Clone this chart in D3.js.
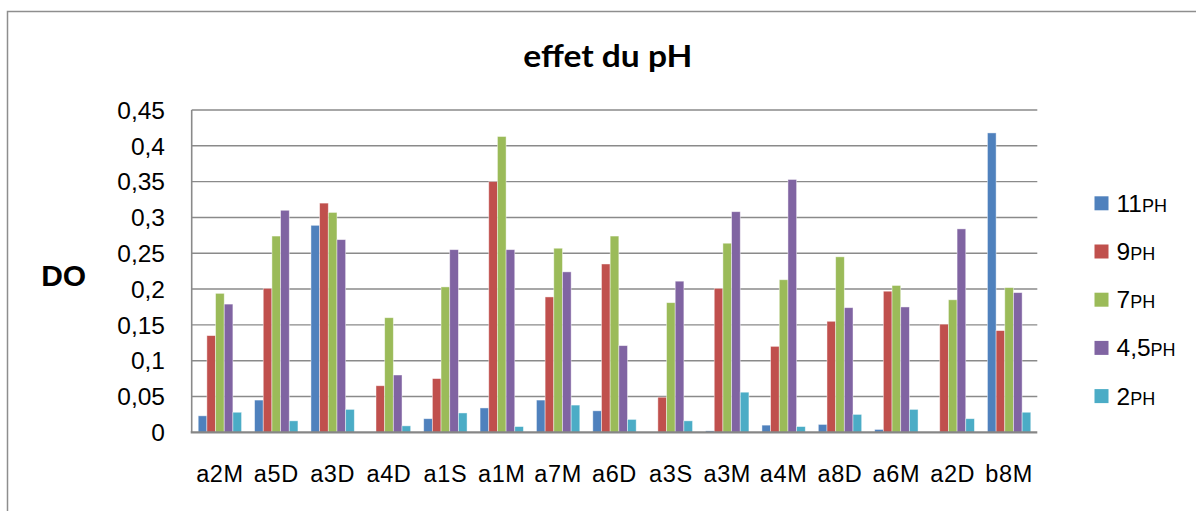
<!DOCTYPE html>
<html>
<head>
<meta charset="utf-8">
<script src="https://cdn.jsdelivr.net/npm/d3@7"></script>
<style>
  html, body { margin: 0; padding: 0; background: #fff; }
  svg { display: block; }
</style>
</head>
<body>
<svg id="chart" width="1196" height="511"></svg>
<script>
// Samples (x axis)
const categories = ["a2M","a5D","a3D","a4D","a1S","a1M","a7M","a6D","a3S","a3M","a4M","a8D","a6M","a2D","b8M"];

// Optical density (DO) per pH condition
const ph11  = [0.023,0.045,0.289,0.000,0.019,0.034,0.045,0.030,0.000,0.002,0.010,0.011,0.004,0.000,0.418];
const ph9   = [0.135,0.201,0.320,0.065,0.075,0.350,0.189,0.235,0.049,0.201,0.120,0.155,0.197,0.151,0.142];
const ph7   = [0.194,0.274,0.307,0.160,0.203,0.413,0.257,0.274,0.181,0.264,0.213,0.245,0.205,0.185,0.202];
const ph45  = [0.179,0.310,0.269,0.080,0.255,0.255,0.224,0.121,0.211,0.308,0.353,0.174,0.175,0.284,0.195];
const ph2   = [0.028,0.016,0.032,0.009,0.027,0.008,0.038,0.018,0.016,0.056,0.008,0.025,0.032,0.019,0.028];

const seriesNames = ["11", "9", "7", "4,5", "2"];
const seriesValues = [ph11, ph9, ph7, ph45, ph2];
const colors = ["#4F81BD", "#C0504D", "#9BBB59", "#8064A2", "#4BACC6"];

const yTicks = [0, 0.05, 0.1, 0.15, 0.2, 0.25, 0.3, 0.35, 0.4, 0.45];

const svg = d3.select("#chart");
const font = "'Liberation Sans', Arial, sans-serif";

// outer chart frame (runs off the right and bottom edges)
svg.append("rect")
  .attr("x", 7.5).attr("y", 11.5)
  .attr("width", 1220).attr("height", 520)
  .attr("fill", "#fff")
  .attr("stroke", "#8e8e8e").attr("stroke-width", 1.5);

const plot = { left: 191.7, right: 1037.3, top: 110, bottom: 432.3 };

const x = d3.scaleBand().domain(categories).range([plot.left, plot.right]).paddingInner(0).paddingOuter(0);
const xs = d3.scaleBand().domain(d3.range(seriesNames.length)).range([0, x.bandwidth()])
  .paddingInner(0).paddingOuter(0.75);
const y = d3.scaleLinear().domain([0, 0.45]).range([plot.bottom, plot.top]);

const fmt = v => d3.format(".2~f")(v).replace(".", ",");

// horizontal gridlines
svg.append("g")
  .selectAll("line").data(yTicks.filter(t => t > 0)).join("line")
  .attr("x1", plot.left).attr("x2", plot.right)
  .attr("y1", d => y(d)).attr("y2", d => y(d))
  .attr("stroke", "#8a8a8a").attr("stroke-width", 1.4);

// y tick labels
svg.append("g")
  .selectAll("text").data(yTicks).join("text")
  .attr("x", 165).attr("y", d => y(d))
  .attr("dy", "0.36em")
  .attr("text-anchor", "end")
  .attr("font-family", font).attr("font-size", 24.5)
  .attr("fill", "#000")
  .text(d => d === 0 ? "0" : fmt(d));

// bars
const rows = [];
seriesValues.forEach((vals, s) => vals.forEach((v, i) => rows.push({ s, cat: categories[i], v })));
svg.append("g")
  .selectAll("rect").data(rows.filter(d => d.v > 0)).join("rect")
  .attr("x", d => x(d.cat) + xs(d.s))
  .attr("width", xs.bandwidth())
  .attr("y", d => y(d.v))
  .attr("height", d => y(0) - y(d.v))
  .attr("fill", d => colors[d.s])
  .attr("stroke", "rgba(255,255,255,0.55)")
  .attr("stroke-width", 0.8);

// axes lines
svg.append("line")
  .attr("x1", plot.left).attr("x2", plot.left)
  .attr("y1", plot.top).attr("y2", plot.bottom)
  .attr("stroke", "#8a8a8a").attr("stroke-width", 1.6);
svg.append("line")
  .attr("x1", plot.left - 1).attr("x2", plot.right)
  .attr("y1", plot.bottom).attr("y2", plot.bottom)
  .attr("stroke", "#868686").attr("stroke-width", 2.2);

// category labels
svg.append("g")
  .selectAll("text").data(categories).join("text")
  .attr("x", d => x(d) + x.bandwidth() / 2)
  .attr("y", 481.7)
  .attr("text-anchor", "middle")
  .attr("font-family", font).attr("font-size", 23.5)
  .attr("letter-spacing", 0.6)
  .attr("fill", "#000")
  .text(d => d);

// title
svg.append("text")
  .attr("x", 607.8).attr("y", 67)
  .attr("text-anchor", "middle")
  .attr("font-family", "Lato, 'Open Sans', sans-serif")
  .attr("font-weight", "bold")
  .attr("font-size", 31)
  .attr("textLength", 169).attr("lengthAdjust", "spacingAndGlyphs")
  .text("effet du pH");

// y axis title
svg.append("text")
  .attr("x", 63.7).attr("y", 275.5)
  .attr("dy", "0.36em")
  .attr("text-anchor", "middle")
  .attr("font-family", font).attr("font-weight", "bold").attr("font-size", 30)
  .text("DO");

// legend
const legend = svg.append("g").selectAll("g").data(seriesNames).join("g")
  .attr("transform", (d, i) => `translate(1094.5, ${203.3 + i * 48.2})`);
legend.append("rect")
  .attr("x", 0).attr("y", -7).attr("width", 14).attr("height", 14)
  .attr("fill", (d, i) => colors[i]);
const lt = legend.append("text")
  .attr("x", 22).attr("y", 8.4)
  .attr("font-family", font).attr("fill", "#000");
lt.append("tspan").attr("font-size", 24.5).text(d => d);
lt.append("tspan").attr("font-size", 18).text("PH");
</script>
</body>
</html>
